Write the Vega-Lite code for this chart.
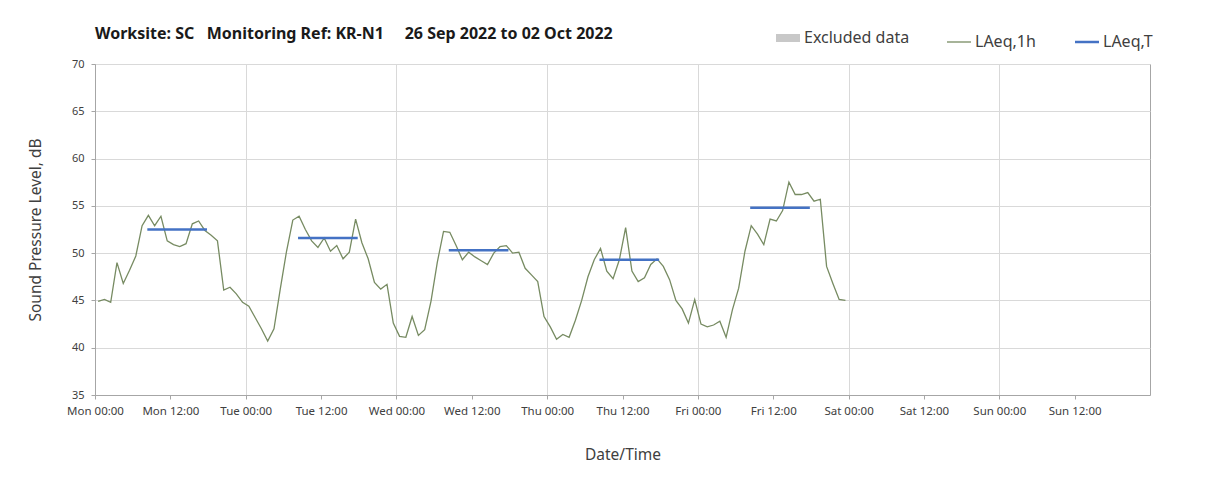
{
  "$schema": "https://vega.github.io/schema/vega-lite/v6.json",
  "width": 1055,
  "height": 331,
  "autosize": {"type": "none"},
  "padding": {"left": 95, "top": 64, "right": 58, "bottom": 95},
  "background": "white",
  "config": {
    "font": "Noto Sans",
    "view": {"stroke": "#a6a6a6", "strokeWidth": 1},
    "axis": {"labelColor": "#404040", "titleColor": "#404040", "labelFont": "Noto Sans", "titleFont": "Noto Sans", "titleFontWeight": "normal"}
  },
  "title": {
    "text": "Worksite: SC\u00a0\u00a0\u00a0Monitoring Ref: KR-N1\u00a0\u00a0\u00a0\u00a0\u00a026 Sep 2022 to 02 Oct 2022",
    "anchor": "start",
    "frame": "group",
    "fontSize": 16,
    "fontWeight": "bold",
    "color": "#1a1a1a",
    "offset": -12
  },
  "datasets": {
    "hourly": [
      {"t": "2022-09-26T00:30", "v": 44.9}, {"t": "2022-09-26T01:30", "v": 45.1}, {"t": "2022-09-26T02:30", "v": 44.8}, {"t": "2022-09-26T03:30", "v": 49.0},
      {"t": "2022-09-26T04:30", "v": 46.8}, {"t": "2022-09-26T05:30", "v": 48.2}, {"t": "2022-09-26T06:30", "v": 49.7}, {"t": "2022-09-26T07:30", "v": 52.9},
      {"t": "2022-09-26T08:30", "v": 54.0}, {"t": "2022-09-26T09:30", "v": 52.9}, {"t": "2022-09-26T10:30", "v": 53.9}, {"t": "2022-09-26T11:30", "v": 51.3},
      {"t": "2022-09-26T12:30", "v": 50.9}, {"t": "2022-09-26T13:30", "v": 50.7}, {"t": "2022-09-26T14:30", "v": 51.0}, {"t": "2022-09-26T15:30", "v": 53.1},
      {"t": "2022-09-26T16:30", "v": 53.4}, {"t": "2022-09-26T17:30", "v": 52.4}, {"t": "2022-09-26T18:30", "v": 51.9}, {"t": "2022-09-26T19:30", "v": 51.3},
      {"t": "2022-09-26T20:30", "v": 46.1}, {"t": "2022-09-26T21:30", "v": 46.4}, {"t": "2022-09-26T22:30", "v": 45.7}, {"t": "2022-09-26T23:30", "v": 44.8},
      {"t": "2022-09-27T00:30", "v": 44.4}, {"t": "2022-09-27T01:30", "v": 43.2}, {"t": "2022-09-27T02:30", "v": 42.0}, {"t": "2022-09-27T03:30", "v": 40.7},
      {"t": "2022-09-27T04:30", "v": 42.0}, {"t": "2022-09-27T05:30", "v": 46.2}, {"t": "2022-09-27T06:30", "v": 50.2}, {"t": "2022-09-27T07:30", "v": 53.5},
      {"t": "2022-09-27T08:30", "v": 53.9}, {"t": "2022-09-27T09:30", "v": 52.5}, {"t": "2022-09-27T10:30", "v": 51.3}, {"t": "2022-09-27T11:30", "v": 50.6},
      {"t": "2022-09-27T12:30", "v": 51.6}, {"t": "2022-09-27T13:30", "v": 50.2}, {"t": "2022-09-27T14:30", "v": 50.8}, {"t": "2022-09-27T15:30", "v": 49.4},
      {"t": "2022-09-27T16:30", "v": 50.1}, {"t": "2022-09-27T17:30", "v": 53.6}, {"t": "2022-09-27T18:30", "v": 51.1}, {"t": "2022-09-27T19:30", "v": 49.4},
      {"t": "2022-09-27T20:30", "v": 46.9}, {"t": "2022-09-27T21:30", "v": 46.2}, {"t": "2022-09-27T22:30", "v": 46.7}, {"t": "2022-09-27T23:30", "v": 42.6},
      {"t": "2022-09-28T00:30", "v": 41.2}, {"t": "2022-09-28T01:30", "v": 41.1}, {"t": "2022-09-28T02:30", "v": 43.3}, {"t": "2022-09-28T03:30", "v": 41.3},
      {"t": "2022-09-28T04:30", "v": 41.9}, {"t": "2022-09-28T05:30", "v": 44.9}, {"t": "2022-09-28T06:30", "v": 49.0}, {"t": "2022-09-28T07:30", "v": 52.3},
      {"t": "2022-09-28T08:30", "v": 52.2}, {"t": "2022-09-28T09:30", "v": 50.8}, {"t": "2022-09-28T10:30", "v": 49.3}, {"t": "2022-09-28T11:30", "v": 50.1},
      {"t": "2022-09-28T12:30", "v": 49.6}, {"t": "2022-09-28T13:30", "v": 49.2}, {"t": "2022-09-28T14:30", "v": 48.8}, {"t": "2022-09-28T15:30", "v": 50.0},
      {"t": "2022-09-28T16:30", "v": 50.7}, {"t": "2022-09-28T17:30", "v": 50.8}, {"t": "2022-09-28T18:30", "v": 50.0}, {"t": "2022-09-28T19:30", "v": 50.1},
      {"t": "2022-09-28T20:30", "v": 48.4}, {"t": "2022-09-28T21:30", "v": 47.7}, {"t": "2022-09-28T22:30", "v": 47.0}, {"t": "2022-09-28T23:30", "v": 43.3},
      {"t": "2022-09-29T00:30", "v": 42.2}, {"t": "2022-09-29T01:30", "v": 40.9}, {"t": "2022-09-29T02:30", "v": 41.4}, {"t": "2022-09-29T03:30", "v": 41.1},
      {"t": "2022-09-29T04:30", "v": 42.9}, {"t": "2022-09-29T05:30", "v": 45.0}, {"t": "2022-09-29T06:30", "v": 47.5}, {"t": "2022-09-29T07:30", "v": 49.3},
      {"t": "2022-09-29T08:30", "v": 50.5}, {"t": "2022-09-29T09:30", "v": 48.1}, {"t": "2022-09-29T10:30", "v": 47.3}, {"t": "2022-09-29T11:30", "v": 49.3},
      {"t": "2022-09-29T12:30", "v": 52.7}, {"t": "2022-09-29T13:30", "v": 48.1}, {"t": "2022-09-29T14:30", "v": 47.0}, {"t": "2022-09-29T15:30", "v": 47.4},
      {"t": "2022-09-29T16:30", "v": 48.8}, {"t": "2022-09-29T17:30", "v": 49.4}, {"t": "2022-09-29T18:30", "v": 48.6}, {"t": "2022-09-29T19:30", "v": 47.2},
      {"t": "2022-09-29T20:30", "v": 45.0}, {"t": "2022-09-29T21:30", "v": 44.1}, {"t": "2022-09-29T22:30", "v": 42.6}, {"t": "2022-09-29T23:30", "v": 45.1},
      {"t": "2022-09-30T00:30", "v": 42.5}, {"t": "2022-09-30T01:30", "v": 42.2}, {"t": "2022-09-30T02:30", "v": 42.4}, {"t": "2022-09-30T03:30", "v": 42.8},
      {"t": "2022-09-30T04:30", "v": 41.1}, {"t": "2022-09-30T05:30", "v": 44.0}, {"t": "2022-09-30T06:30", "v": 46.3}, {"t": "2022-09-30T07:30", "v": 50.2},
      {"t": "2022-09-30T08:30", "v": 52.9}, {"t": "2022-09-30T09:30", "v": 52.0}, {"t": "2022-09-30T10:30", "v": 50.9}, {"t": "2022-09-30T11:30", "v": 53.6},
      {"t": "2022-09-30T12:30", "v": 53.4}, {"t": "2022-09-30T13:30", "v": 54.5}, {"t": "2022-09-30T14:30", "v": 57.5}, {"t": "2022-09-30T15:30", "v": 56.2},
      {"t": "2022-09-30T16:30", "v": 56.2}, {"t": "2022-09-30T17:30", "v": 56.4}, {"t": "2022-09-30T18:30", "v": 55.5}, {"t": "2022-09-30T19:30", "v": 55.7},
      {"t": "2022-09-30T20:30", "v": 48.6}, {"t": "2022-09-30T21:30", "v": 46.8}, {"t": "2022-09-30T22:30", "v": 45.1}, {"t": "2022-09-30T23:30", "v": 45.0}
    ],
    "period": [
      {"start": "2022-09-26T08:20", "end": "2022-09-26T17:50", "v": 52.5},
      {"start": "2022-09-27T08:20", "end": "2022-09-27T17:50", "v": 51.6},
      {"start": "2022-09-28T08:20", "end": "2022-09-28T17:50", "v": 50.3},
      {"start": "2022-09-29T08:20", "end": "2022-09-29T17:50", "v": 49.3},
      {"start": "2022-09-30T08:20", "end": "2022-09-30T17:50", "v": 54.8}
    ]
  },
  "resolve": {"axis": {"x": "independent"}},
  "layer": [
    {
      "data": {"name": "hourly"},
      "mark": {"type": "line", "strokeWidth": 1.3},
      "encoding": {
        "x": {
          "field": "t", "type": "temporal",
          "scale": {"domain": [{"year": 2022, "month": 9, "date": 26, "hours": 0}, {"year": 2022, "month": 10, "date": 3, "hours": 0}]},
          "axis": {
            "title": "Date/Time",
            "titleFontSize": 15.5,
            "titlePadding": 31,
            "format": "%a %H:%M",
            "labelFontSize": 11.5,
            "labelPadding": 6,
            "labelFlush": false,
            "labelOverlap": false,
            "values": [
              {"year": 2022, "month": 9, "date": 26, "hours": 0}, {"year": 2022, "month": 9, "date": 26, "hours": 12},
              {"year": 2022, "month": 9, "date": 27, "hours": 0}, {"year": 2022, "month": 9, "date": 27, "hours": 12},
              {"year": 2022, "month": 9, "date": 28, "hours": 0}, {"year": 2022, "month": 9, "date": 28, "hours": 12},
              {"year": 2022, "month": 9, "date": 29, "hours": 0}, {"year": 2022, "month": 9, "date": 29, "hours": 12},
              {"year": 2022, "month": 9, "date": 30, "hours": 0}, {"year": 2022, "month": 9, "date": 30, "hours": 12},
              {"year": 2022, "month": 10, "date": 1, "hours": 0}, {"year": 2022, "month": 10, "date": 1, "hours": 12},
              {"year": 2022, "month": 10, "date": 2, "hours": 0}, {"year": 2022, "month": 10, "date": 2, "hours": 12}
            ],
            "tickColor": "#a6a6a6",
            "tickSize": 4,
            "domainColor": "#a6a6a6",
            "grid": false
          }
        },
        "y": {
          "field": "v", "type": "quantitative",
          "scale": {"domain": [35, 70], "nice": false, "zero": false},
          "axis": {
            "title": "Sound Pressure Level, dB",
            "titleFontSize": 15.5,
            "titlePadding": 28,
            "values": [35, 40, 45, 50, 55, 60, 65, 70],
            "labelFontSize": 11,
            "labelPadding": 7,
            "tickColor": "#a6a6a6",
            "tickSize": 4,
            "domainColor": "#a6a6a6",
            "gridColor": "#d9d9d9"
          }
        },
        "color": {
          "datum": "LAeq,1h", "type": "nominal",
          "scale": {"domain": ["Excluded data", "LAeq,1h", "LAeq,T"], "range": ["#c8c8c8", "#778b62", "#4472c4"]},
          "legend": {
            "title": null,
            "orient": "none",
            "direction": "horizontal",
            "legendX": 685,
            "legendY": -34,
            "symbolType": "stroke",
            "symbolSize": 576,
            "symbolStrokeWidth": 2,
            "labelFontSize": 16,
            "labelColor": "#404040",
            "labelOffset": 8,
            "columnPadding": 34,
            "encode": {
              "symbols": {
                "update": {
                  "strokeWidth": {"signal": "datum.value === 'Excluded data' ? 8 : (datum.value === 'LAeq,T' ? 2.5 : 1.3)"}
                }
              }
            }
          }
        }
      }
    },
    {
      "data": {"name": "period"},
      "mark": {"type": "rule", "strokeWidth": 2.5},
      "encoding": {
        "x": {
          "field": "start", "type": "temporal",
          "axis": {
            "orient": "top",
            "title": null,
            "labels": false,
            "ticks": false,
            "domain": false,
            "grid": true,
            "gridColor": "#d9d9d9",
            "values": [
              {"year": 2022, "month": 9, "date": 27, "hours": 0}, {"year": 2022, "month": 9, "date": 28, "hours": 0},
              {"year": 2022, "month": 9, "date": 29, "hours": 0}, {"year": 2022, "month": 9, "date": 30, "hours": 0},
              {"year": 2022, "month": 10, "date": 1, "hours": 0}, {"year": 2022, "month": 10, "date": 2, "hours": 0}
            ]
          }
        },
        "x2": {"field": "end"},
        "y": {"field": "v", "type": "quantitative"},
        "color": {"datum": "LAeq,T", "type": "nominal"}
      }
    }
  ]
}
